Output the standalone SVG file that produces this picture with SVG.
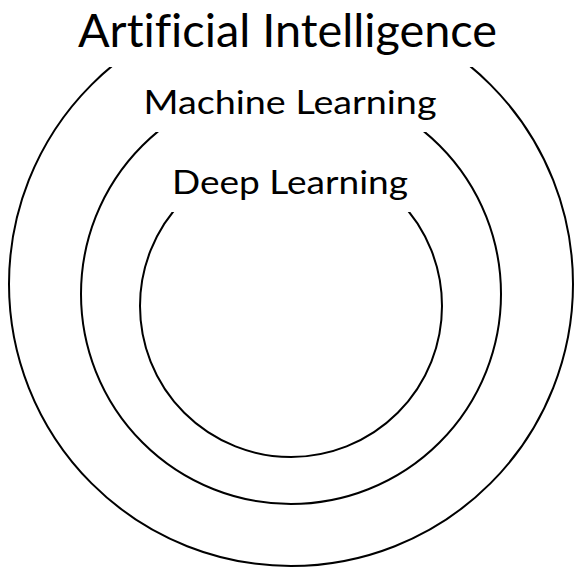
<svg xmlns="http://www.w3.org/2000/svg" width="588" height="588" viewBox="0 0 588 588">
<style>
.ring{fill:none;stroke:#000;stroke-width:2}
.mask{fill:#fff;stroke:none}
.lbl{font-family:Lato,"Open Sans","Liberation Sans",sans-serif;fill:#000;text-anchor:middle;font-variant-ligatures:none}
</style>
<rect width="588" height="588" fill="#fff"/>
<g id="ai">
<circle class="ring" cx="291" cy="284" r="282"/>
</g>
<g id="ml">
<circle class="ring" cx="291" cy="294" r="210"/>
</g>
<g id="dl">
<circle class="ring" cx="291" cy="306" r="151"/>
</g>
<g id="labels">
<rect class="mask" x="90" y="0" width="400" height="67"/>
<rect class="mask" x="138" y="70" width="306" height="62"/>
<rect class="mask" x="160" y="145" width="262" height="67"/>
<text class="lbl" x="287.5" y="47" font-size="47" textLength="419" lengthAdjust="spacingAndGlyphs">Artificial Intelligence</text>
<text class="lbl" x="290" y="114" font-size="32" textLength="293" lengthAdjust="spacingAndGlyphs">Machine Learning</text>
<text class="lbl" x="290" y="194" font-size="32" textLength="236" lengthAdjust="spacingAndGlyphs">Deep Learning</text>
</g>
</svg>
